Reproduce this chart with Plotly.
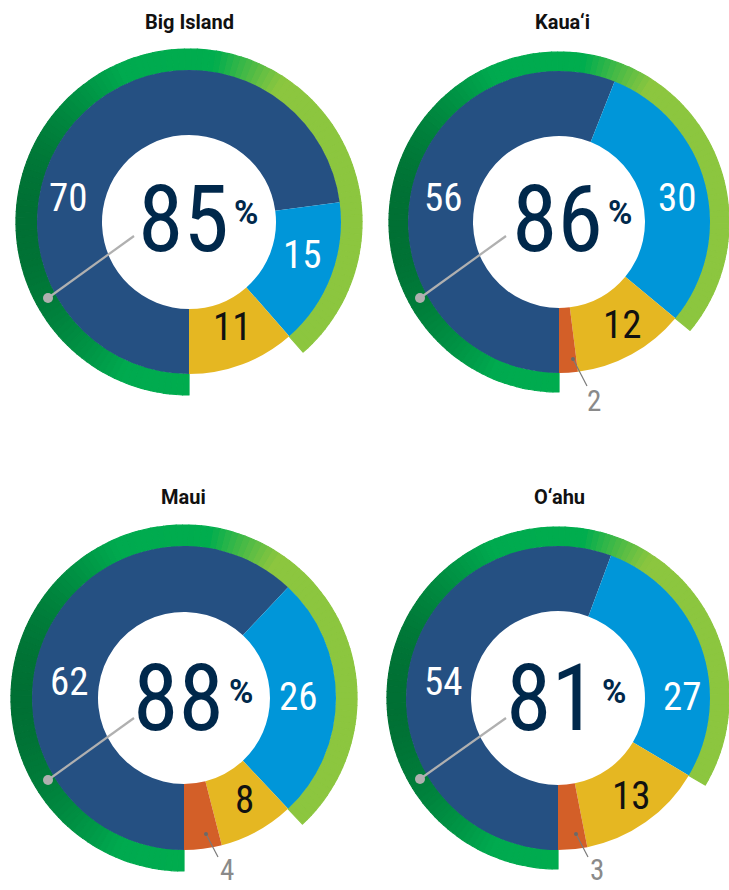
import math
import plotly.graph_objects as go

W, H = 729, 890

islands = ["Big Island", "Kaua‘i", "Maui", "O‘ahu"]
dark_blue = [70, 56, 62, 54]
light_blue = [15, 30, 26, 27]
yellow = [11, 12, 8, 13]
orange = [0, 2, 4, 3]
overall = [85, 86, 88, 81]

SLICE_COLORS = ["#255082", "#0096d9", "#e5b722", "#d35f28"]
LABEL_COLORS = ["white", "white", "#111111", "#8a8a8a"]
LABEL_SIZES = [39, 39, 39, 29]
NAVY = "#00284b"
NUM_FONT = "Roboto Condensed, Liberation Sans Narrow, Roboto, sans-serif"

# panel geometry in px (centre, ring radius, donut radius, hole radius)
panels = [
    dict(cx=189, cy=222, ring=173, pie=152, hole=87, title=(189, 22),
         big=(185, 220), labels=[(68, 198), (302, 255), (232, 327), None],
         lead=((134, 236), (48, 298)), small=None),
    dict(cx=559, cy=222, ring=170, pie=151, hole=86, title=(562, 22),
         big=(559, 220), labels=[(443, 198), (677, 198), (622, 325), (594, 401)],
         lead=((506, 236), (420, 298)), small=((573, 359), (587, 386))),
    dict(cx=184, cy=698, ring=173, pie=152, hole=86, title=(184, 497),
         big=(180, 698), labels=[(69, 682), (298, 697), (244, 800), (227, 870)],
         lead=((134, 718), (48, 780)), small=((206, 834), (218, 857))),
    dict(cx=558, cy=698, ring=171, pie=152, hole=87, title=(559, 497),
         big=(553, 698), labels=[(443, 682), (682, 697), (631, 796), (597, 870)],
         lead=((506, 718), (420, 779)), small=((576, 834), (588, 857))),
]

GRAD = [(0.0, (0, 112, 52)), (0.3, (0, 170, 79)), (0.58, (0, 173, 78)),
        (0.78, (140, 198, 63)), (1.0, (140, 198, 63))]


def grad_color(u):
    for (u0, c0), (u1, c1) in zip(GRAD[:-1], GRAD[1:]):
        if u <= u1:
            t = 0 if u1 == u0 else (u - u0) / (u1 - u0)
            c = [round(a + (b - a) * t) for a, b in zip(c0, c1)]
            return "rgb(%d,%d,%d)" % tuple(c)
    return "rgb(%d,%d,%d)" % GRAD[-1][1]


def px(x, y):
    return x / W, 1 - y / H


def domain(cx, cy, r):
    return dict(x=[(cx - r) / W, (cx + r) / W], y=[1 - (cy + r) / H, 1 - (cy - r) / H])


def note(pos, text, font, **kw):
    x, y = px(*pos)
    d = dict(x=x, y=y, xref="paper", yref="paper", text=text, showarrow=False, font=font,
             xanchor="center", yanchor="middle")
    d.update(kw)
    return d


fig = go.Figure()
annotations = []
shapes = []

for i, p in enumerate(panels):
    vals = [dark_blue[i], light_blue[i], yellow[i], orange[i]]
    total = sum(vals)

    # outer gradient ring: share of first two groups, split into thin slices for the gradient
    n = 150
    share = overall[i] / total
    ring_vals, ring_cols = [], []
    for k in range(n):
        a = math.radians(360 * share * (k + 0.5) / n)
        u = (1 - math.sin(a)) / 2
        ring_vals.append(overall[i] / n)
        ring_cols.append(grad_color(u))
    ring_vals.append(total - overall[i])
    ring_cols.append("rgba(0,0,0,0)")
    fig.add_trace(go.Pie(
        values=ring_vals, sort=False, direction="clockwise", rotation=180,
        hole=p["pie"] / p["ring"], domain=domain(p["cx"], p["cy"], p["ring"]),
        marker=dict(colors=ring_cols, line=dict(color=ring_cols, width=1.2)),
        textinfo="none", hoverinfo="skip", showlegend=False,
    ))

    fig.add_trace(go.Pie(
        values=vals, sort=False, direction="clockwise", rotation=180,
        hole=p["hole"] / p["pie"], domain=domain(p["cx"], p["cy"], p["pie"]),
        marker=dict(colors=SLICE_COLORS, line=dict(width=0)),
        textinfo="none", hoverinfo="skip", showlegend=False,
    ))

    annotations.append(note(p["title"], "<b>%s</b>" % islands[i],
                            dict(family="Roboto, Arial", size=20, color="#111111")))

    for v, pos, col, sz in zip(vals, p["labels"], LABEL_COLORS, LABEL_SIZES):
        if pos is None or v == 0:
            continue
        annotations.append(note(pos, str(v), dict(family=NUM_FONT, size=sz, color=col)))

    bx, by = p["big"]
    annotations.append(note((bx - 2, by), str(overall[i]),
                            dict(family=NUM_FONT, size=92, color=NAVY)))
    annotations.append(note((bx + 47, by - 7), "<b>%</b>",
                            dict(family="Roboto, Arial", size=33, color=NAVY), xanchor="left"))

    (x0, y0), (x1, y1) = p["lead"]
    shapes.append(dict(type="line", xref="paper", yref="paper",
                       x0=x0 / W, y0=1 - y0 / H, x1=x1 / W, y1=1 - y1 / H,
                       line=dict(color="#b0b0b0", width=2.2)))
    shapes.append(dict(type="circle", xref="paper", yref="paper",
                       x0=(x1 - 5) / W, x1=(x1 + 5) / W, y0=1 - (y1 + 5) / H, y1=1 - (y1 - 5) / H,
                       fillcolor="#b0b0b0", line=dict(width=0)))
    if p["small"]:
        (x0, y0), (x1, y1) = p["small"]
        shapes.append(dict(type="line", xref="paper", yref="paper",
                           x0=x0 / W, y0=1 - y0 / H, x1=x1 / W, y1=1 - y1 / H,
                           line=dict(color="#7a7a7a", width=1.2)))
        shapes.append(dict(type="circle", xref="paper", yref="paper",
                           x0=(x0 - 2) / W, x1=(x0 + 2) / W, y0=1 - (y0 + 2) / H, y1=1 - (y0 - 2) / H,
                           fillcolor="#6a6a6a", line=dict(width=0)))

fig.update_layout(
    width=W, height=H, margin=dict(l=0, r=0, t=0, b=0),
    paper_bgcolor="white", plot_bgcolor="white",
    annotations=annotations, shapes=shapes,
)
fig.write_html("out.html", config={"displayModeBar": False},
               post_script="document.body.style.margin = '0';")
